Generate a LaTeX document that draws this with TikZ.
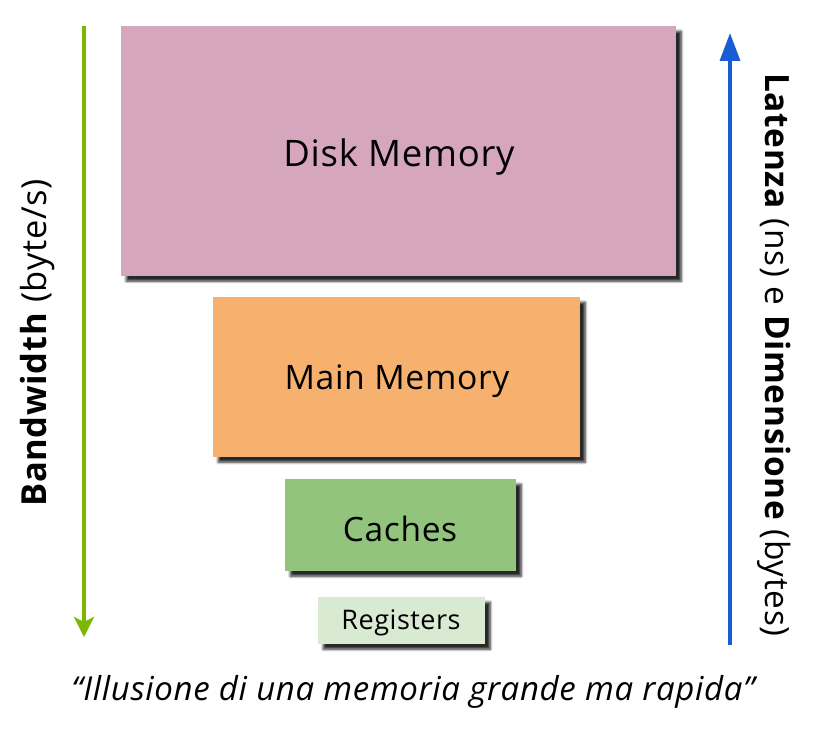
\documentclass[tikz,border=0pt]{standalone}
\usepackage{fontspec}
\setmainfont{Open Sans}[LetterSpace=2]
\usetikzlibrary{shadows.blur,arrows.meta}
\definecolor{diskc}{HTML}{D6A5BE}
\definecolor{mainc}{HTML}{F5B16D}
\definecolor{cachec}{HTML}{93C47D}
\definecolor{regc}{HTML}{D9EAD3}
\definecolor{greenarr}{HTML}{7AB800}
\definecolor{bluearr}{HTML}{1A5CD6}
\tikzset{
  membox/.style={draw=none, inner sep=0pt, anchor=north west,
    blur shadow={shadow xshift=5pt, shadow yshift=-5pt, shadow blur radius=2.5pt, shadow opacity=85, shadow blur steps=6}},
  lbl/.style={inner sep=0pt},
}
\begin{document}
\begin{tikzpicture}[x=1pt,y=-1pt]
\useasboundingbox (0,0) rectangle (823,730);
\node[membox, fill=diskc, minimum width=555pt, minimum height=250pt] (disk) at (121,26) {};
\node[lbl, font=\fontsize{36.5}{40}\selectfont] (disklbl) at (399,157) {Disk Memory};
\node[membox, fill=mainc, minimum width=367pt, minimum height=160pt] (main) at (213,297) {};
\node[lbl, font=\fontsize{33.7}{38}\selectfont] (mainlbl) at (397,381) {Main Memory};
\node[membox, fill=cachec, minimum width=231pt, minimum height=92pt] (cache) at (285,479) {};
\node[lbl, font=\fontsize{33.5}{38}\selectfont] (cachelbl) at (400,529) {Caches};
\node[membox, fill=regc, minimum width=167pt, minimum height=47pt] (reg) at (318,597) {};
\node[lbl, font=\fontsize{27}{31}\selectfont] (reglbl) at (401,623) {Registers};
\coordinate (gtop) at (84,26);
\coordinate (gbot) at (84,637);
\draw[greenarr, line width=3.5pt, -{Stealth[length=20pt,width=20pt,inset=5pt]}] (gtop) -- (gbot);
\coordinate (bbot) at (730,645);
\coordinate (btop) at (730,33);
\draw[bluearr, line width=3.5pt, -{Triangle[length=28pt,width=20pt]}] (bbot) -- (btop);
\node[lbl, rotate=90, font=\fontsize{34.5}{38}\selectfont] (bw) at (38,343) {\textbf{Bandwidth} (byte/s)};
\node[lbl, rotate=-90, font=\fontsize{33.4}{38}\selectfont] (lat) at (774,355) {\textbf{Latenza} (ns) e \textbf{Dimensione} (bytes)};
\node[lbl, font=\fontsize{33}{38}\selectfont\itshape] (cap) at (413,692) {“Illusione di una memoria grande ma rapida”};
\end{tikzpicture}
\end{document}
